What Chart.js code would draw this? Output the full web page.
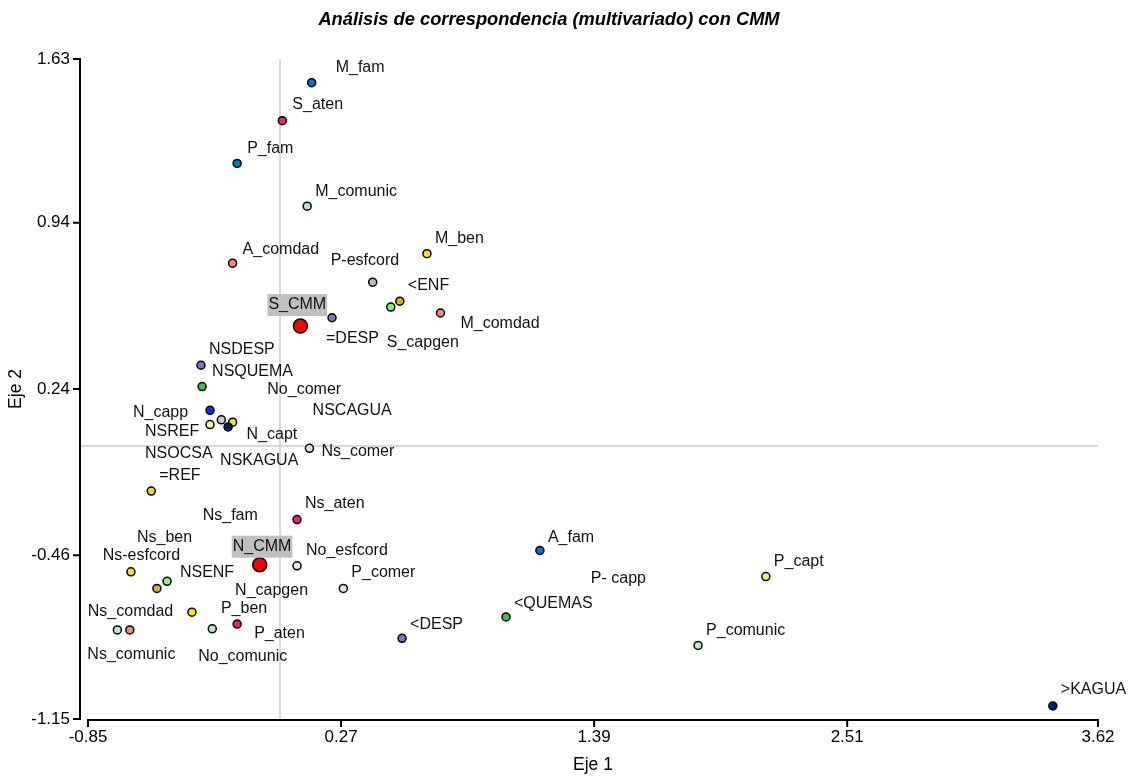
<!DOCTYPE html>
<html>
<head>
<meta charset="utf-8">
<title>Análisis de correspondencia</title>
<script src="https://cdn.jsdelivr.net/npm/chart.js@4"></script>
<style>
  html, body { margin: 0; padding: 0; background: #fff; }
  #wrap { width: 1133px; height: 779px; }
</style>
</head>
<body>
<div id="wrap"><canvas id="chart" width="1133" height="779"></canvas></div>
<script>
// categories and their coordinates on the two axes
const categories = [
  'M_fam', 'S_aten', 'P_fam', 'M_comunic', 'A_comdad', 'M_ben', 'P-esfcord', '<ENF',
  'S_capgen', 'M_comdad', '=DESP', 'S_CMM', 'NSDESP', 'NSQUEMA', 'No_comer', 'N_capp',
  'NSREF', 'NSOCSA', 'N_capt', 'NSCAGUA', 'NSKAGUA', 'Ns_comer', '=REF', 'Ns_aten',
  'Ns_fam', 'N_CMM', 'No_esfcord', 'A_fam', 'P_capt', 'P- capp', 'P_comer', 'Ns_ben',
  'Ns-esfcord', 'NSENF', 'N_capgen', 'Ns_comdad', 'Ns_comunic', 'P_ben', '<QUEMAS',
  'P_aten', 'No_comunic', '<DESP', 'P_comunic', '>KAGUA'
];
const eje1 = [
  0.14, 0.01, -0.19, 0.12, -0.21, 0.65, 0.41, 0.53,
  0.49, 0.71, 0.23, 0.09, -0.35, -0.345, -0.26, -0.31,
  -0.31, -0.31, -0.21, -0.21, -0.23, 0.13, -0.57, 0.075,
  -0.09, -0.09, 0.075, 1.15, 2.15, 1.34, 0.28, -0.66,
  -0.40, -0.545, -0.50, -0.665, -0.72, -0.39, 1.00,
  -0.19, -0.30, 0.54, 1.85, 3.42
];
const eje2 = [
  1.53, 1.37, 1.19, 1.01, 0.77, 0.81, 0.69, 0.61,
  0.585, 0.56, 0.54, 0.505, 0.34, 0.25, 0.11, 0.15,
  0.09, 0.09, 0.10, 0.10, 0.08, -0.01, -0.19, -0.31,
  -0.50, -0.50, -0.505, -0.44, -0.55, -0.61, -0.60, -0.53,
  -0.49, -0.60, -0.57, -0.775, -0.775, -0.70, -0.72,
  -0.75, -0.77, -0.81, -0.84, -1.095
];
const xTicks = [-0.85, 0.27, 1.39, 2.51, 3.62];
const yTicks = [-1.15, -0.46, 0.24, 0.94, 1.63];

// styling per point
const blue = '#0a74c4', pink = '#ee1f7a', paleGreen = '#bfe8c0', salmon = '#f38a8a';
const yellow = '#f5e61a', gray = '#bdbdbd', olive = '#c8b814', green = '#3cc24a';
const purple = '#8f6dc4', red = '#ff0000', navy = '#0a1a80';
const pointColors = [
  blue, pink, blue, paleGreen, salmon, yellow, gray, olive,
  '#7ff07f', salmon, purple, red, purple, green, '#cccccc', '#1030ff',
  '#fff69a', '#fff69a', yellow, yellow, navy, '#dcdcdc', '#e8dc10', pink,
  blue, red, '#e8e8e8', blue, '#f7ee70', yellow, '#e6e6e6', yellow,
  gray, olive, '#8ff08f', salmon, paleGreen, yellow, green,
  pink, paleGreen, purple, paleGreen, navy
];
// hidden = covered in the original plot
const hidden = ['NSOCSA', 'NSCAGUA', 'Ns_fam', 'P- capp', 'Ns-esfcord'];
const bigPoints = ['S_CMM', 'N_CMM'];
// label offsets from the point, in pixels
const labelOffsets = {
  'M_fam': [24, -15], 'S_aten': [10, -16], 'P_fam': [10, -15], 'M_comunic': [8, -15],
  'A_comdad': [10, -14], 'M_ben': [8, -15], 'P-esfcord': [-42, -22], '<ENF': [8, -16],
  'S_capgen': [-4, 36], 'M_comdad': [20, 11], '=DESP': [-6, 21], 'S_CMM': [-32, -21],
  'NSDESP': [8, -16], 'NSQUEMA': [10, -15], 'No_comer': [46, -30], 'N_capp': [-77, 2],
  'NSREF': [-65, 7], 'NSOCSA': [-65, 29], 'N_capt': [14, 12], 'NSCAGUA': [80, -12],
  'NSKAGUA': [-8, 34], 'Ns_comer': [12, 3], '=REF': [8, -15], 'Ns_aten': [8, -16],
  'Ns_fam': [-57, -49], 'N_CMM': [-27, -18], 'No_esfcord': [9, -15], 'A_fam': [8, -13],
  'P_capt': [8, -15], 'P- capp': [8, -12], 'P_comer': [8, -16], 'Ns_ben': [6, -34],
  'Ns-esfcord': [-87, -7], 'NSENF': [23, -16], 'N_capgen': [68, 9], 'Ns_comdad': [-42, -18],
  'Ns_comunic': [-30, 25], 'P_ben': [29, -4], '<QUEMAS': [8, -13], 'P_aten': [17, 10],
  'No_comunic': [-14, 28], '<DESP': [8, -14], 'P_comunic': [8, -15], '>KAGUA': [8, -16]
};

const points = categories.map((c, i) => ({ x: eje1[i], y: eje2[i] }));
const font = '"Liberation Sans", Arial, sans-serif';

// grey reference lines through the origin
const originLines = {
  id: 'originLines',
  beforeDatasetsDraw(chart) {
    const { ctx, chartArea, scales } = chart;
    const x0 = scales.x.getPixelForValue(0);
    const y0 = scales.y.getPixelForValue(0);
    ctx.save();
    ctx.strokeStyle = '#d9d9d9';
    ctx.lineWidth = 2;
    ctx.beginPath();
    ctx.moveTo(x0, chartArea.top);
    ctx.lineTo(x0, chartArea.bottom);
    ctx.moveTo(chartArea.left - 8, y0);
    ctx.lineTo(chartArea.right, y0);
    ctx.stroke();
    ctx.restore();
  }
};

// axis lines drawn apart from each other like in the original
const axisLines = {
  id: 'axisLines',
  afterDraw(chart) {
    const { ctx, chartArea, scales } = chart;
    const ax = chartArea.left - 8;
    const ay = chartArea.bottom + 1;
    ctx.save();
    ctx.strokeStyle = '#000';
    ctx.lineWidth = 2;
    ctx.beginPath();
    ctx.moveTo(ax, chartArea.top);
    ctx.lineTo(ax, chartArea.bottom);
    yTicks.forEach(v => {
      const py = scales.y.getPixelForValue(v);
      ctx.moveTo(ax + 1, py);
      ctx.lineTo(ax - 7, py);
    });
    ctx.moveTo(chartArea.left, ay);
    ctx.lineTo(chartArea.right, ay);
    xTicks.forEach(v => {
      const px = scales.x.getPixelForValue(v);
      ctx.moveTo(px, ay - 1);
      ctx.lineTo(px, ay + 7);
    });
    ctx.stroke();
    ctx.restore();
  }
};

// text labels next to the points
const pointLabels = {
  id: 'pointLabels',
  afterDatasetsDraw(chart) {
    const { ctx } = chart;
    const meta = chart.getDatasetMeta(0);
    ctx.save();
    ctx.font = '16px ' + font;
    ctx.textBaseline = 'middle';
    ctx.textAlign = 'left';
    meta.data.forEach((el, i) => {
      const name = categories[i];
      const off = labelOffsets[name] || [8, -15];
      const tx = el.x + off[0];
      const ty = el.y + off[1];
      if (bigPoints.includes(name)) {
        const w = ctx.measureText(name).width;
        ctx.fillStyle = '#c0c0c0';
        ctx.fillRect(tx - 1, ty - 11, w + 2, 22);
      }
      ctx.fillStyle = '#111';
      ctx.fillText(name, tx, ty);
    });
    ctx.restore();
  }
};

const ctx = document.getElementById('chart').getContext('2d');
new Chart(ctx, {
  type: 'scatter',
  data: {
    datasets: [{
      label: 'Categorías',
      data: points,
      backgroundColor: pointColors,
      borderColor: '#000',
      borderWidth: categories.map(c => hidden.includes(c) ? 0 : 1.5),
      pointRadius: categories.map(c => hidden.includes(c) ? 0 : (bigPoints.includes(c) ? 7 : 4)),
      pointHoverRadius: categories.map(c => hidden.includes(c) ? 0 : (bigPoints.includes(c) ? 7 : 4))
    }]
  },
  options: {
    responsive: false,
    animation: false,
    layout: { padding: { left: 0, right: 35, top: 0, bottom: 0 } },
    plugins: {
      legend: { display: false },
      tooltip: { enabled: false },
      title: {
        display: true,
        text: 'Análisis de correspondencia (multivariado) con CMM',
        color: '#000',
        font: { family: font, size: 18.3, weight: 'bold', style: 'italic' },
        padding: { top: 9, bottom: 28 }
      }
    },
    scales: {
      x: {
        type: 'linear',
        min: -0.85,
        max: 3.62,
        afterBuildTicks: scale => { scale.ticks = xTicks.map(v => ({ value: v })); },
        afterFit: scale => { scale.height = 60; },
        grid: { display: false, drawTicks: false },
        border: { display: false },
        ticks: {
          color: '#000',
          padding: 8,
          font: { family: font, size: 17 },
          callback: v => v.toFixed(2)
        },
        title: {
          display: true,
          text: 'Eje 1',
          color: '#000',
          font: { family: font, size: 17.5 },
          padding: { top: 0, bottom: 3.5 }
        }
      },
      y: {
        type: 'linear',
        min: -1.15,
        max: 1.63,
        afterBuildTicks: scale => { scale.ticks = yTicks.map(v => ({ value: v })); },
        afterFit: scale => { scale.width = 88; },
        grid: { display: false, drawTicks: false },
        border: { display: false },
        ticks: {
          color: '#000',
          padding: 18,
          font: { family: font, size: 17 },
          callback: v => v.toFixed(2)
        },
        title: {
          display: true,
          text: 'Eje 2',
          color: '#000',
          font: { family: font, size: 17.5 },
          padding: { top: 5.5, bottom: 0 }
        }
      }
    }
  },
  plugins: [originLines, axisLines, pointLabels]
});
</script>
</body>
</html>
